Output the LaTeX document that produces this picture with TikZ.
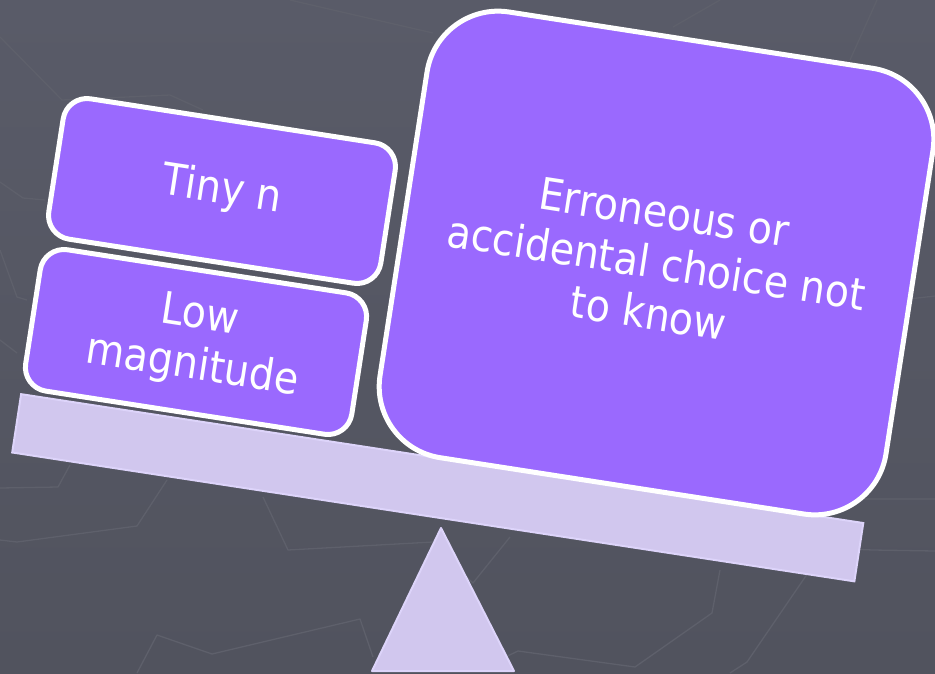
\documentclass[tikz,border=0pt]{standalone}
\usepackage{fontspec}
\setmainfont{DejaVu Sans}[FakeStretch=0.9]
\definecolor{bgtop}{HTML}{595B68}
\definecolor{bgbot}{HTML}{51535E}
\definecolor{bgline}{HTML}{5E606B}
\definecolor{boxfill}{HTML}{9A69FE}
\definecolor{beamfill}{HTML}{D1C7EE}
\definecolor{beamedge}{HTML}{DDD4FA}
\tikzset{
  bgpath/.style={draw=bgline, line width=1.3pt, line join=round},
  weight/.style={draw=white, line width=5pt, fill=boxfill, text=white,
    align=center, inner sep=0pt, font=\fontsize{44}{51}\selectfont},
  beambox/.style={draw=beamedge, line width=2pt, fill=beamfill, inner sep=0pt},
}
\begin{document}
\begin{tikzpicture}[x=1pt,y=-1pt]
\useasboundingbox (0,0) rectangle (935,673);
\shade[top color=bgtop, bottom color=bgbot] (0,0) rectangle (935,673);
% faint background lines
\draw[bgpath] (0,37) -- (62,100) -- (170,95) -- (203,110);
\draw[bgpath] (290,0) -- (333,10) -- (433,33);
\draw[bgpath] (0,182) -- (23,198) -- (45,200);
\draw[bgpath] (0,250) -- (17,297) -- (27,300);
\draw[bgpath] (0,340) -- (17,353);
\draw[bgpath] (0,488) -- (58,487) -- (70,465);
\draw[bgpath] (0,540) -- (17,542) -- (137,526) -- (167,480);
\draw[bgpath] (263,497) -- (288,550) -- (433,542);
\draw[bgpath] (450,562) -- (473,583) -- (510,537);
\draw[bgpath] (137,673) -- (157,635) -- (212,654) -- (360,619) -- (373,657);
\draw[bgpath] (495,662) -- (518,651) -- (635,667) -- (712,613) -- (720,570);
\draw[bgpath] (730,673) -- (747,662) -- (825,548) -- (873,550) -- (935,551);
\draw[bgpath] (863,480) -- (858,499) -- (935,499);
\draw[bgpath] (673,27) -- (720,0);
\draw[bgpath] (850,60) -- (877,0);
\draw[bgpath] (900,300) -- (935,296);
% fulcrum
\coordinate (apex) at (441,528);
\coordinate (bl) at (372,671);
\coordinate (br) at (514,671);
\draw[beambox, line join=round] (apex) -- (br) -- (bl) -- cycle;
% beam
\node[beambox, rotate=-8.7, minimum width=852pt, minimum height=59pt] (beam) at (437.75,487.75) {};
% weights
\node[weight, rotate=-8.8, minimum width=336pt, minimum height=142pt, rounded corners=24pt] (tiny) at (222,191) {Tiny n};
\node[weight, rotate=-8.8, minimum width=330pt, minimum height=143pt, rounded corners=24pt] (low) at (196,342) {Low\\magnitude};
\node[weight, rotate=-8.8, minimum width=512pt, minimum height=451pt, rounded corners=72pt] (err) at (656.5,263) {Erroneous or\\accidental choice not\\to know};
\end{tikzpicture}
\end{document}
